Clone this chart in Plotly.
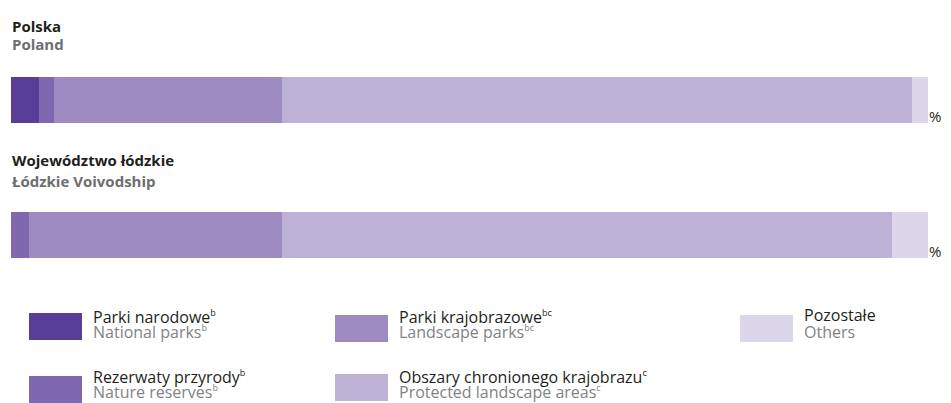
import plotly.graph_objects as go

# ---- data ----
regions = ["Polska", "Województwo łódzkie"]
regions_en = ["Poland", "Łódzkie Voivodship"]
categories_pl = ["Parki narodowe", "Rezerwaty przyrody", "Parki krajobrazowe",
                 "Obszary chronionego krajobrazu", "Pozostałe"]
categories_en = ["National parks", "Nature reserves", "Landscape parks",
                 "Protected landscape areas", "Others"]
footnotes = ["b", "b", "bc", "c", ""]
poland_values = [3.1, 1.6, 24.9, 68.7, 1.7]
lodzkie_values = [0.0, 2.0, 27.6, 66.5, 3.9]

colors = ["#583e96", "#7f68b0", "#9d8ac0", "#bdb2d6", "#dcd6ea"]

W, H = 935, 395
OFF = 8  # page body margin


def px(x):
    return (x - OFF) / W


def py(y):
    return 1 - (y - OFF) / H


def with_note(label, note):
    if not note:
        return label
    return f"{label}<sup><span style='font-size:9px'>{note}</span></sup>"


fig = go.Figure()
series = [poland_values, lodzkie_values]
for ri, vals in enumerate(series):
    xa = "x" if ri == 0 else "x2"
    ya = "y" if ri == 0 else "y2"
    for ci, v in enumerate(vals):
        fig.add_trace(go.Bar(
            x=[v], y=[0], orientation="h", width=1,
            marker=dict(color=colors[ci], line=dict(width=0)),
            xaxis=xa, yaxis=ya, showlegend=False,
            hovertemplate=f"{regions[ri]}: %{{x}}%<extra></extra>",
        ))

axis_common = dict(showgrid=False, zeroline=False, showticklabels=False,
                   showline=False, fixedrange=True)
fig.update_layout(
    width=W, height=H,
    margin=dict(l=0, r=0, t=0, b=0),
    paper_bgcolor="white", plot_bgcolor="white",
    barmode="stack", bargap=0,
    font=dict(family="Open Sans", color="#231f20"),
    xaxis=dict(domain=[px(11), px(928)], range=[0, 100], anchor="y", **axis_common),
    yaxis=dict(domain=[py(123), py(77)], range=[-0.5, 0.5], anchor="x", **axis_common),
    xaxis2=dict(domain=[px(11), px(928)], range=[0, 100], anchor="y2", **axis_common),
    yaxis2=dict(domain=[py(258), py(212)], range=[-0.5, 0.5], anchor="x2", **axis_common),
)

ann = []
# region titles
title_y = [(26, 43.5), (160, 180.5)]
for i in range(2):
    ann.append(dict(text=f"<b>{regions[i]}</b>", x=px(10), y=py(title_y[i][0]),
                    xref="paper", yref="paper", xanchor="left", yanchor="middle",
                    showarrow=False, font=dict(size=15, color="#231f20")))
    ann.append(dict(text=f"<b>{regions_en[i]}</b>", x=px(10), y=py(title_y[i][1]),
                    xref="paper", yref="paper", xanchor="left", yanchor="middle",
                    showarrow=False, font=dict(size=15, color="#6d6e71")))
# percent signs
for yy in (116, 251):
    ann.append(dict(text="%", x=px(943), y=py(yy), xref="paper", yref="paper",
                    xanchor="right", yanchor="middle", showarrow=False,
                    font=dict(size=15, color="#231f20")))

# custom legend: (swatch x, swatch y, text line1 y, text line2 y)
legend_pos = [(29, 313, 317, 332), (29, 376, 377, 392),
              (335, 315, 317, 332), (335, 374, 377, 392),
              (740, 315, 315, 332)]
shapes = []
for ci, (lx, ly, t1, t2) in enumerate(legend_pos):
    shapes.append(dict(type="rect", xref="paper", yref="paper",
                       x0=px(lx), x1=px(lx + 53), y0=py(ly + 27), y1=py(ly),
                       fillcolor=colors[ci], line=dict(width=0)))
    tx = px(lx + 62)
    ann.append(dict(text=with_note(categories_pl[ci], footnotes[ci]), x=tx, y=py(t1),
                    xref="paper", yref="paper", xanchor="left", yanchor="middle",
                    showarrow=False, font=dict(size=16, color="#231f20")))
    ann.append(dict(text=with_note(categories_en[ci], footnotes[ci]), x=tx, y=py(t2),
                    xref="paper", yref="paper", xanchor="left", yanchor="middle",
                    showarrow=False, font=dict(size=16, color="#808285")))

fig.update_layout(annotations=ann, shapes=shapes)
fig.write_html("out.html")
